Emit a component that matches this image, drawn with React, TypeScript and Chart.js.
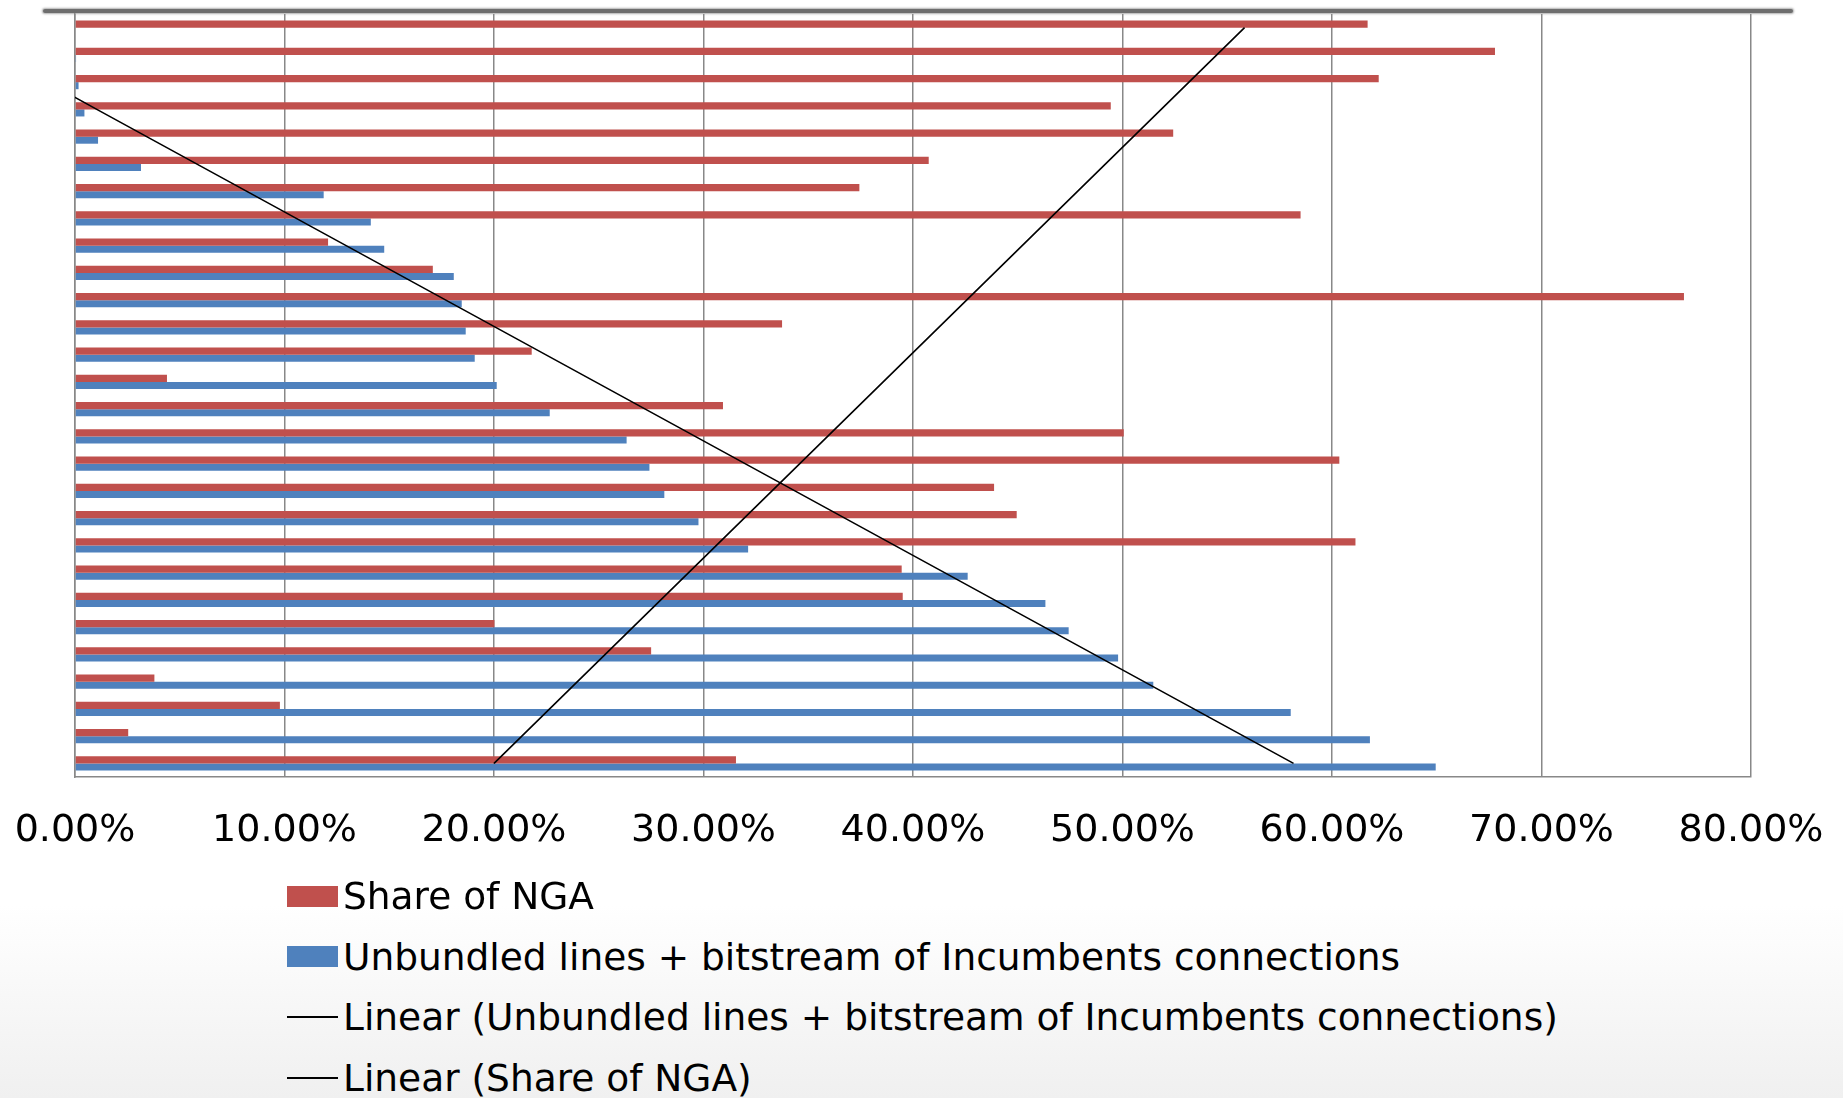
import React, { useEffect, useRef } from "react";
import { Chart, registerables } from "chart.js";

Chart.register(...registerables);

// Categories in the source order (first category is drawn at the bottom)
const categories = [
  "1", "2", "3", "4", "5", "6", "7", "8", "9", "10", "11", "12", "13", "14",
  "15", "16", "17", "18", "19", "20", "21", "22", "23", "24", "25", "26", "27", "28",
];

// Share of NGA (%)
const shareNGA = [
  31.55, 2.54, 9.78, 3.79, 27.5, 20.02, 39.51, 39.46, 61.12, 44.95, 43.87, 60.35, 50.06, 30.93,
  4.39, 21.8, 33.75, 76.8, 17.08, 12.08, 58.5, 37.44, 40.75, 52.42, 49.44, 62.23, 67.78, 61.7,
];

// Unbundled lines + bitstream of Incumbents connections (%)
const unbundled = [
  64.95, 61.81, 58.03, 51.47, 49.79, 47.43, 46.32, 42.61, 32.13, 29.76, 28.13, 27.42, 26.33, 22.66,
  20.13, 19.08, 18.65, 18.46, 18.08, 14.76, 14.12, 11.87, 3.15, 1.1, 0.45, 0.17, 0.05, 0,
];

const xTicks = [0, 10, 20, 30, 40, 50, 60, 70, 80];

const seriesNames = [
  "Share of NGA",
  "Unbundled lines + bitstream of Incumbents connections",
  "Linear (Unbundled lines + bitstream of Incumbents connections)",
  "Linear (Share of NGA)",
];

const RED = "#C0504D";
const BLUE = "#4F81BD";
const FONT = "'DejaVu Sans', Verdana, sans-serif";

// Least-squares linear trendline over the category index (as Excel does)
function linearTrend(values: number[]): number[] {
  const n = values.length;
  const mx = (n + 1) / 2;
  const my = values.reduce((a, b) => a + b, 0) / n;
  let sxy = 0;
  let sxx = 0;
  values.forEach((v, i) => {
    const dx = i + 1 - mx;
    sxy += dx * (v - my);
    sxx += dx * dx;
  });
  const slope = sxy / sxx;
  return values.map((_, i) => my + slope * (i + 1 - mx));
}

const CANVAS_W = 1843;
const CANVAS_H = 880;
const PLOT_LEFT = 75;
const PLOT_RIGHT = 1751;
const PLOT_TOP = 14;
const PLOT_BOTTOM = 777;

export default function App() {
  const canvasRef = useRef<HTMLCanvasElement | null>(null);

  useEffect(() => {
    if (!canvasRef.current) return;
    const chart = new Chart(canvasRef.current, {
      type: "bar",
      data: {
        labels: categories,
        datasets: [
          {
            type: "bar",
            label: seriesNames[0],
            data: shareNGA,
            backgroundColor: RED,
            borderWidth: 0,
            barPercentage: 1,
            categoryPercentage: 0.52,
            order: 1,
          },
          {
            type: "bar",
            label: seriesNames[1],
            data: unbundled,
            backgroundColor: BLUE,
            borderWidth: 0,
            barPercentage: 1,
            categoryPercentage: 0.52,
            order: 1,
          },
          {
            type: "line",
            label: seriesNames[2],
            data: linearTrend(unbundled),
            borderColor: "#000000",
            borderWidth: 1.6,
            pointRadius: 0,
            fill: false,
            tension: 0,
            order: 0,
          },
          {
            type: "line",
            label: seriesNames[3],
            data: linearTrend(shareNGA),
            borderColor: "#000000",
            borderWidth: 1.6,
            pointRadius: 0,
            fill: false,
            tension: 0,
            order: 0,
          },
        ] as any,
      },
      options: {
        indexAxis: "y",
        animation: false,
        responsive: false,
        devicePixelRatio: 1,
        layout: {
          padding: {
            left: PLOT_LEFT,
            right: CANVAS_W - PLOT_RIGHT,
            top: PLOT_TOP,
            bottom: 0,
          },
        },
        plugins: {
          legend: { display: false },
          tooltip: { enabled: false },
        },
        scales: {
          x: {
            type: "linear",
            min: 0,
            max: 80,
            afterBuildTicks: (scale: any) => {
              scale.ticks = xTicks.map((v) => ({ value: v }));
            },
            afterFit: (scale: any) => {
              scale.height = CANVAS_H - PLOT_BOTTOM;
              scale.paddingLeft = 0;
              scale.paddingRight = 0;
            },
            grid: {
              color: "#888888",
              lineWidth: 1.5,
              drawTicks: false,
            },
            border: { display: true, color: "#888888", width: 1.5 },
            ticks: {
              padding: 31,
              color: "#000000",
              font: { family: FONT, size: 38 },
              maxRotation: 0,
              autoSkip: false,
              callback: (v: any) => Number(v).toFixed(2) + "%",
            },
          },
          y: {
            type: "category",
            reverse: true,
            afterFit: (scale: any) => {
              scale.width = 0;
              scale.paddingTop = 0;
              scale.paddingBottom = 0;
            },
            grid: { display: false, drawTicks: false },
            border: { display: true, color: "#888888", width: 1.5 },
            ticks: { display: false },
          },
        },
      } as any,
    });
    return () => chart.destroy();
  }, []);

  const legendCenters = [896, 956.5, 1017, 1077.5];
  const legendKinds = ["box", "box", "line", "line"];
  const legendColors = [RED, BLUE, "#000000", "#000000"];

  return (
    <div
      style={{
        position: "absolute",
        left: 0,
        top: 0,
        width: CANVAS_W,
        height: 1098,
        overflow: "hidden",
        background:
          "linear-gradient(to bottom, #ffffff 0px, #ffffff 905px, #f2f2f2 1070px, #f0f0f0 1098px)",
        fontFamily: FONT,
      }}
    >
      <div
        style={{
          position: "absolute",
          left: 43,
          top: 9,
          width: 1750,
          height: 4,
          background: "#6e6e6e",
          borderRadius: 2,
          boxShadow: "0 0 2px 1px rgba(120,120,120,0.6)",
        }}
      />
      <canvas
        ref={canvasRef}
        width={CANVAS_W}
        height={CANVAS_H}
        style={{ position: "absolute", left: 0, top: 0, width: CANVAS_W, height: CANVAS_H }}
      />
      {seriesNames.map((name, i) => (
        <div
          key={name}
          style={{
            position: "absolute",
            left: 287,
            top: legendCenters[i] - 25,
            height: 50,
            display: "flex",
            alignItems: "center",
            whiteSpace: "nowrap",
          }}
        >
          <div
            style={{
              width: 51,
              height: legendKinds[i] === "box" ? 21 : 2,
              background: legendColors[i],
              marginRight: 5,
              flex: "none",
            }}
          />
          <span style={{ fontSize: 37.5, lineHeight: "50px", color: "#000000" }}>{name}</span>
        </div>
      ))}
    </div>
  );
}
